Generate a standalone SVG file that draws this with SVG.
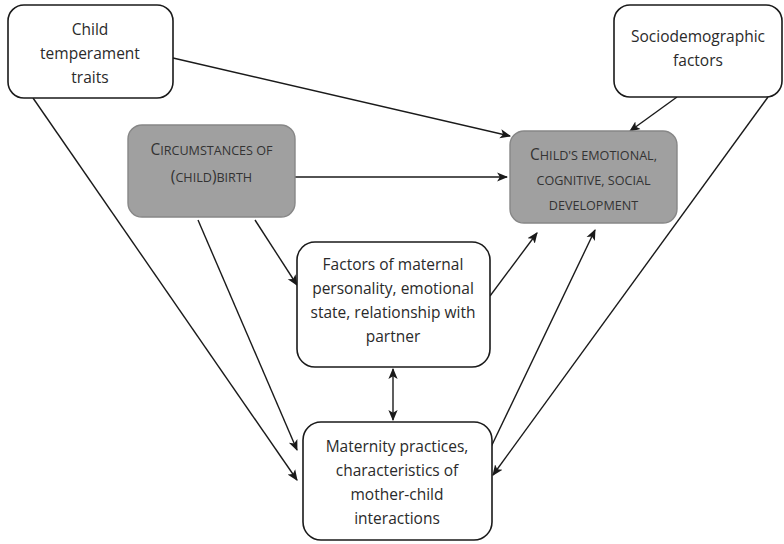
<svg xmlns="http://www.w3.org/2000/svg" width="784" height="544" viewBox="0 0 784 544">
<style>
.box{fill:#fff;stroke:#1a1a1a;stroke-width:1.6}
.gbox{fill:#a0a0a0;stroke:#878787;stroke-width:1.4}
.t{font-family:"Open Sans","Liberation Sans",sans-serif;font-size:15.5px;fill:#2a2a2a;text-anchor:middle}
.g{font-family:"Open Sans","Liberation Sans",sans-serif;font-size:15.5px;fill:#333;text-anchor:middle}
.sc{font-size:12.6px}
.c line{stroke:#1a1a1a;stroke-width:1.4;fill:none}
</style>
<defs>
<marker id="ah" viewBox="0 0 10 10" refX="9" refY="5" markerWidth="11" markerHeight="11" markerUnits="userSpaceOnUse" orient="auto-start-reverse">
<path d="M0,0.8 L10,5 L0,9.2 L2.5,5 Z" fill="#1a1a1a"/>
</marker>
</defs>
<rect width="784" height="544" fill="#fff"/>
<g class="c">
<line x1="173" y1="58" x2="510" y2="136" marker-end="url(#ah)"/>
<line x1="677" y1="97" x2="630" y2="131" marker-end="url(#ah)"/>
<line x1="768" y1="97" x2="493" y2="475" marker-end="url(#ah)"/>
<line x1="295" y1="177" x2="507" y2="177" marker-end="url(#ah)"/>
<line x1="255" y1="220" x2="297" y2="285" marker-end="url(#ah)"/>
<line x1="198" y1="220" x2="297" y2="450" marker-end="url(#ah)"/>
<line x1="33" y1="98" x2="297" y2="480" marker-end="url(#ah)"/>
<line x1="490" y1="296" x2="537" y2="233" marker-end="url(#ah)"/>
<line x1="491" y1="447" x2="595" y2="230" marker-end="url(#ah)"/>
<line x1="393" y1="369" x2="393" y2="420" marker-start="url(#ah)" marker-end="url(#ah)"/>
</g>
<g id="temperament">
<rect class="box" x="8" y="5" width="165" height="93" rx="16"/>
<text class="t" x="90" y="35">Child</text>
<text class="t" x="90" y="59">temperament</text>
<text class="t" x="90" y="83">traits</text>
</g>
<g id="sociodemographic">
<rect class="box" x="614" y="5" width="168" height="92" rx="16"/>
<text class="t" x="698" y="42">Sociodemographic</text>
<text class="t" x="698" y="66">factors</text>
</g>
<g id="circumstances">
<rect class="gbox" x="128" y="125" width="167" height="92" rx="14"/>
<text class="g" x="211.5" y="155">C<tspan class="sc">IRCUMSTANCES OF</tspan></text>
<text class="g" x="211.5" y="182">(<tspan class="sc">CHILD</tspan>)<tspan class="sc">BIRTH</tspan></text>
</g>
<g id="development">
<rect class="gbox" x="510" y="131" width="167" height="92" rx="14"/>
<text class="g" x="593.5" y="160">C<tspan class="sc">HILD'S EMOTIONAL,</tspan></text>
<text class="g" x="593.5" y="185"><tspan class="sc">COGNITIVE, SOCIAL</tspan></text>
<text class="g" x="593.5" y="210"><tspan class="sc">DEVELOPMENT</tspan></text>
</g>
<g id="maternal">
<rect class="box" x="297" y="242" width="193" height="125" rx="18"/>
<text class="t" x="393" y="270">Factors of maternal</text>
<text class="t" x="393" y="294">personality, emotional</text>
<text class="t" x="393" y="318">state, relationship with</text>
<text class="t" x="393" y="342">partner</text>
</g>
<g id="maternity">
<rect class="box" x="303" y="422" width="189" height="118" rx="18"/>
<text class="t" x="397" y="452">Maternity practices,</text>
<text class="t" x="397" y="476">characteristics of</text>
<text class="t" x="397" y="500">mother-child</text>
<text class="t" x="397" y="524">interactions</text>
</g>
</svg>
